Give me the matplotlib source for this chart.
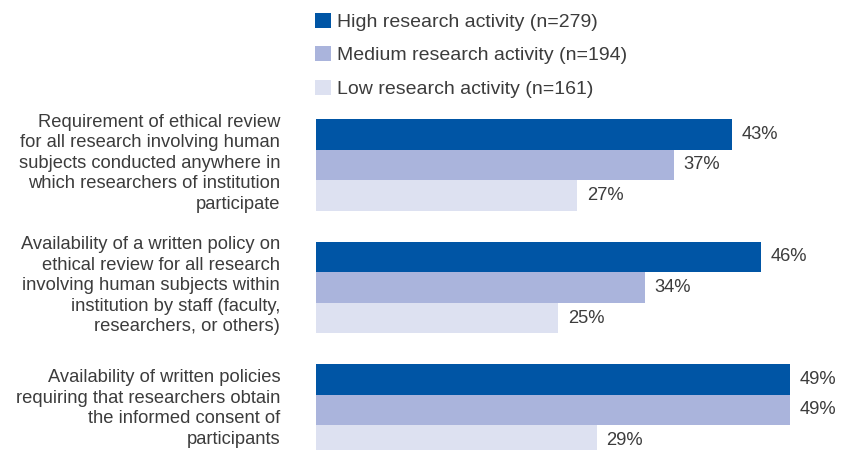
import numpy as np
import matplotlib
matplotlib.use("Agg")
import matplotlib.pyplot as plt

plt.rcParams['font.family'] = ['Liberation Sans', 'DejaVu Sans']

# policy items, top to bottom
categories = [
    "Requirement of ethical review\nfor all research involving human\nsubjects conducted anywhere in\nwhich researchers of institution\nparticipate",
    "Availability of a written policy on\nethical review for all research\ninvolving human subjects within\ninstitution by staff (faculty,\nresearchers, or others)",
    "Availability of written policies\nrequiring that researchers obtain\nthe informed consent of\nparticipants",
]
series = ["High research activity (n=279)",
          "Medium research activity (n=194)",
          "Low research activity (n=161)"]
high = [43, 46, 49]
medium = [37, 34, 49]
low = [27, 25, 29]

colors = ["#0055A5", "#AAB4DC", "#DDE1F1"]
txt = "#3c3c3c"
fs = 13.2

W, H = 842, 450
fig = plt.figure(figsize=(W / 100, H / 100), dpi=100)
ax = fig.add_axes([316 / W, 0, 484 / W, 1])

groups = np.arange(len(categories)) * 4.0
bars = []
for k, (vals, lab, c) in enumerate(zip([high, medium, low], series, colors)):
    y = groups + (k - 1)
    b = ax.barh(y, vals, height=1.0, color=c, label=lab)
    bars.append(b)
    for yy, v in zip(y, vals):
        ax.text(v + 1.0, yy, f"{v}%", va="center", ha="left",
                fontsize=fs, color=txt)

for g, cat in zip(groups, categories):
    ax.text(-3.7, g - 0.05, cat, ha="right", va="center", fontsize=fs,
            color=txt, linespacing=1.27, clip_on=False)

ax.set_xlim(0, 50)
ax.set_ylim(9.31, -5.39)
ax.axis("off")

ax.legend(handles=bars, loc="upper left", bbox_to_anchor=(-0.002, 0.972),
          frameon=False, fontsize=14, handlelength=0.82, handleheight=0.82,
          handletextpad=0.3, labelspacing=0.78, borderpad=0, borderaxespad=0,
          labelcolor=txt)

fig.savefig("out.png", dpi=100)
